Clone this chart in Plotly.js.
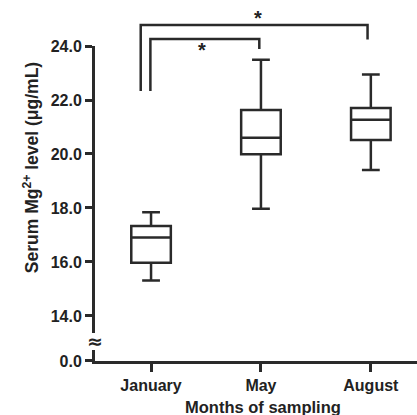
<!DOCTYPE html>
<html>
<head>
<meta charset="utf-8">
<script src="https://cdn.plot.ly/plotly-3.0.1.min.js"></script>
<style>html,body{margin:0;padding:0;background:#fff;}#chart{width:417px;height:415px;}</style>
</head>
<body>
<div id="chart"></div>
<script>
const months = ["January", "May", "August"];
const lowerWhisker = [15.31, 17.97, 19.41];
const q1 = [15.97, 19.99, 20.52];
const median = [16.91, 20.60, 21.27];
const q3 = [17.33, 21.63, 21.70];
const upperWhisker = [17.84, 23.49, 22.94];
const yTitle = "Serum Mg<sup>2+</sup> level (μg/mL)";
const xTitle = "Months of sampling";

const lineCol = "#2a2a2a";
const fam = "Liberation Sans, Arial, sans-serif";
const font = {family: fam, size: 16, color: "#222222", weight: "bold"};

const trace = {
  type: "box",
  x: months,
  q1: q1, median: median, q3: q3,
  lowerfence: lowerWhisker, upperfence: upperWhisker,
  boxpoints: false,
  width: 0.36,
  whiskerwidth: 0.45,
  fillcolor: "#ffffff",
  line: {color: lineCol, width: 2.5},
  xaxis: "x", yaxis: "y",
  hoverinfo: "skip",
  showlegend: false
};
const dummy = {type: "scatter", x: [months[0]], y: [0], xaxis: "x", yaxis: "y2", mode: "markers",
  marker: {opacity: 0}, showlegend: false, hoverinfo: "skip"};

const bracketLine = {color: lineCol, width: 2.5};
const axisCommon = {
  showline: true, linecolor: lineCol, linewidth: 3,
  ticks: "outside", ticklen: 7, tickwidth: 3, tickcolor: lineCol,
  showgrid: false, zeroline: false, tickfont: font
};
const layout = {
  width: 417, height: 415,
  margin: {l: 95, r: 0, t: 46, b: 54},
  paper_bgcolor: "#fff", plot_bgcolor: "rgba(0,0,0,0)",
  font: font,
  showlegend: false,
  xaxis: Object.assign({}, axisCommon, {
    type: "category", categoryorder: "array", categoryarray: months,
    range: [-0.51, 2.42], anchor: "y2",
    ticklen: 8
  }),
  yaxis: Object.assign({}, axisCommon, {
    domain: [0.0889, 1], range: [13.37, 24],
    tick0: 14, dtick: 2, tickformat: ".1f", anchor: "x"
  }),
  yaxis2: Object.assign({}, axisCommon, {
    domain: [0, 0.0349], range: [0, 0.4],
    tickvals: [0], tickformat: ".1f", anchor: "x"
  }),
  shapes: [
    {type: "path", xref: "x", yref: "paper", path: "M -0.094,0.8572 L -0.094,1.0667 L 1.97,1.0667 L 1.97,1.0206", line: bracketLine},
    {type: "path", xref: "x", yref: "paper", path: "M -0.006,0.8572 L -0.006,1.0222 L 0.985,1.0222 L 0.985,0.9905", line: bracketLine}
  ],
  annotations: [
    {text: yTitle, xref: "paper", yref: "paper", x: -0.199, y: 0.615, xanchor: "center", yanchor: "middle", textangle: -90, showarrow: false,
     font: {family: fam, size: 17.5, color: "#222", weight: "bold"}},
    {text: xTitle, xref: "paper", yref: "paper", x: 0.522, y: -0.146, xanchor: "center", yanchor: "middle", showarrow: false,
     font: {family: fam, size: 16.5, color: "#222", weight: "bold"}},
    {text: "*", xref: "x", yref: "paper", x: 0.975, y: 1.130, showarrow: false, font: {family: fam, size: 20, color: "#222"}},
    {text: "*", xref: "x", yref: "paper", x: 0.46, y: 1.027, showarrow: false, font: {family: fam, size: 20, color: "#222"}},
    {text: "≈", xref: "paper", yref: "paper", x: 0, xanchor: "center", yanchor: "middle", y: 0.063, showarrow: false, font: {family: "DejaVu Sans", size: 19, color: "#222", weight: "bold"}}
  ]
};

Plotly.newPlot("chart", [trace, dummy], layout, {displayModeBar: false, staticPlot: true});
</script>
</body>
</html>
